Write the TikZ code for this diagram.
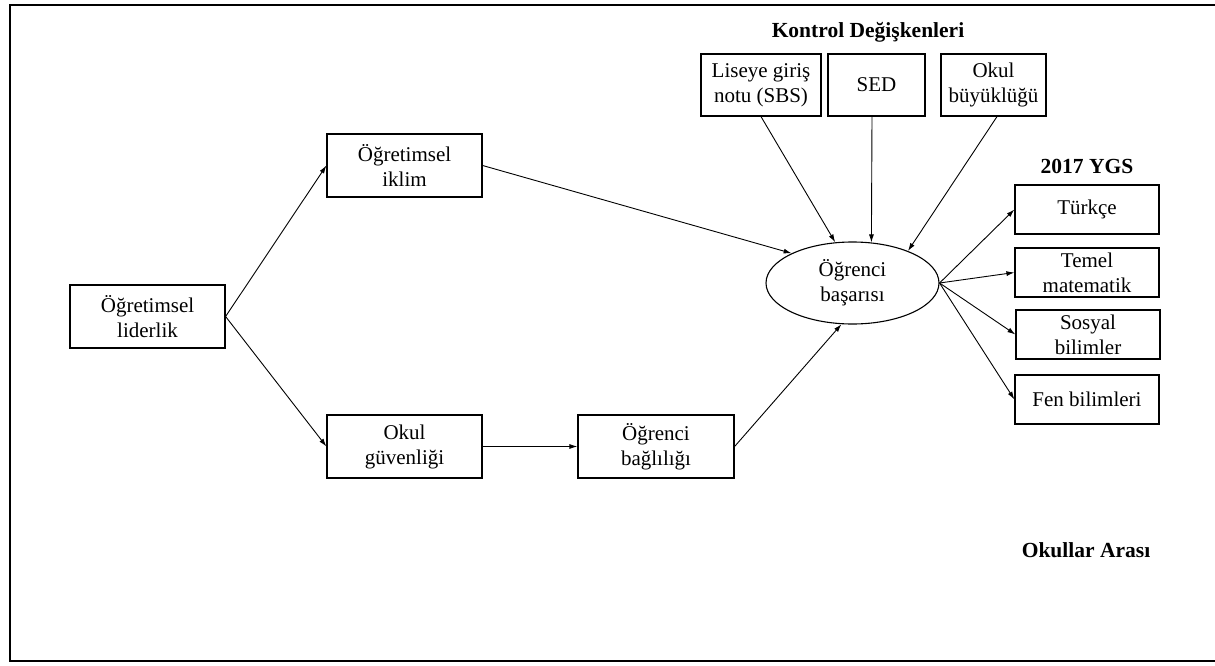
\documentclass[tikz,border=0pt]{standalone}
\usepackage{fontspec}
\setmainfont{Liberation Serif}
\usetikzlibrary{arrows.meta,shapes.geometric}
\begin{document}
\begin{tikzpicture}[x=1pt,y=-1pt,
  box/.style={draw, line width=1.2pt, inner sep=0pt, align=center, font=\fontsize{21}{25}\selectfont},
  ell/.style={ellipse, draw, line width=1.1pt, inner sep=0pt, align=center, font=\fontsize{21}{25}\selectfont},
  arr/.style={-{Latex[length=8pt,width=5pt]}, line width=0.9pt},
  lbl/.style={inner sep=0pt, font=\bfseries\fontsize{21.5}{25}\selectfont}]
\useasboundingbox (0,0) rectangle (1215,666);
\draw[line width=2.5pt] (1215,5) -- (10,5) -- (10,661) -- (1215,661);

\node[box, minimum width=155pt, minimum height=63pt] (lid) at (147.5,316.5) {Öğretimsel\\liderlik};
\node[box, minimum width=155pt, minimum height=63pt] (iklim) at (404.5,165.5) {Öğretimsel\\iklim};
\node[box, minimum width=155pt, minimum height=63pt] (guv) at (404.5,446.5) {Okul\\güvenliği};
\node[box, minimum width=156pt, minimum height=63pt] (bag) at (656,446.5) {Öğrenci\\bağlılığı};
\node[ell, minimum width=173pt, minimum height=82pt] (bas) at (852.5,283) {Öğrenci\\başarısı};

\node[lbl] (kontrol) at (868,32) {Kontrol Değişkenleri};
\node[box, minimum width=120pt, minimum height=62pt] (lis) at (761,85) {Liseye giriş\\notu (SBS)};
\node[box, minimum width=97pt, minimum height=62pt] (sed) at (876.5,85) {SED};
\node[box, minimum width=105pt, minimum height=62pt] (buy) at (993.5,85) {Okul\\büyüklüğü};

\node[lbl] (ygs) at (1087,166) {2017 YGS};
\node[box, minimum width=144pt, minimum height=49pt] (tr) at (1087,209.5) {Türkçe};
\node[box, minimum width=144pt, minimum height=49pt] (mat) at (1087,272.5) {Temel\\matematik};
\node[box, minimum width=144pt, minimum height=49pt] (sos) at (1088,334.5) {Sosyal\\bilimler};
\node[box, minimum width=144pt, minimum height=49pt] (fen) at (1087,399.5) {Fen bilimleri};

\node[lbl] (arasi) at (1086,550) {Okullar Arası};

\draw[arr] (lid.east) -- (iklim.west);
\draw[arr] (lid.east) -- (guv.west);
\draw[arr] (iklim.east) -- (bas.154);
\draw[arr] (guv.east) -- (bag.west);
\draw[arr] (bag.east) -- (bas.255);
\draw[arr] (lis.south) -- (bas.113);
\draw[arr] ([xshift=-4.5pt]sed.south) -- (bas.65);
\draw[arr] ([xshift=3.5pt]buy.south) -- (bas.30);
\draw[arr] (bas.east) -- (tr.west);
\draw[arr] (bas.east) -- (mat.west);
\draw[arr] (bas.east) -- (sos.west);
\draw[arr] (bas.east) -- (fen.west);
\end{tikzpicture}
\end{document}
